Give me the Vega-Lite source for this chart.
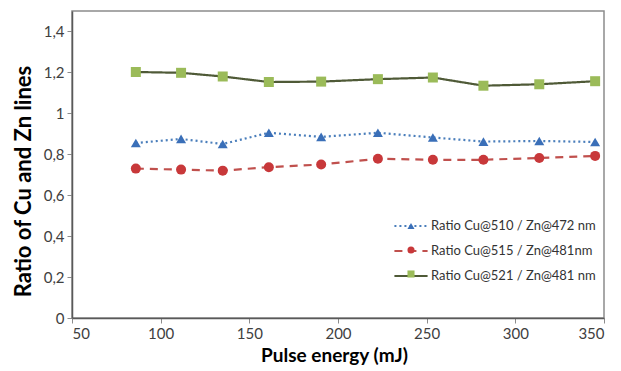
{
  "$schema": "https://vega.github.io/schema/vega-lite/v6.json",
  "width": 532,
  "height": 307,
  "autosize": "none",
  "padding": {"left": 72, "top": 11, "right": 17, "bottom": 53},
  "background": "white",
  "config": {
    "view": {"stroke": "#8c8c8c", "strokeWidth": 1.5},
    "font": "Lato"
  },
  "data": {
    "values": [
      {"series": "Ratio Cu@510 / Zn@472 nm", "energy": 86, "ratio": 0.855},
      {"series": "Ratio Cu@510 / Zn@472 nm", "energy": 111.5, "ratio": 0.875},
      {"series": "Ratio Cu@510 / Zn@472 nm", "energy": 135, "ratio": 0.85},
      {"series": "Ratio Cu@510 / Zn@472 nm", "energy": 161, "ratio": 0.905},
      {"series": "Ratio Cu@510 / Zn@472 nm", "energy": 190.5, "ratio": 0.885},
      {"series": "Ratio Cu@510 / Zn@472 nm", "energy": 222.5, "ratio": 0.905},
      {"series": "Ratio Cu@510 / Zn@472 nm", "energy": 253.5, "ratio": 0.882},
      {"series": "Ratio Cu@510 / Zn@472 nm", "energy": 282, "ratio": 0.862},
      {"series": "Ratio Cu@510 / Zn@472 nm", "energy": 313.5, "ratio": 0.865},
      {"series": "Ratio Cu@510 / Zn@472 nm", "energy": 345, "ratio": 0.86},
      {"series": "Ratio Cu@515 / Zn@481nm", "energy": 86, "ratio": 0.73},
      {"series": "Ratio Cu@515 / Zn@481nm", "energy": 111.5, "ratio": 0.725},
      {"series": "Ratio Cu@515 / Zn@481nm", "energy": 135, "ratio": 0.72},
      {"series": "Ratio Cu@515 / Zn@481nm", "energy": 161, "ratio": 0.737},
      {"series": "Ratio Cu@515 / Zn@481nm", "energy": 190.5, "ratio": 0.75},
      {"series": "Ratio Cu@515 / Zn@481nm", "energy": 222.5, "ratio": 0.778},
      {"series": "Ratio Cu@515 / Zn@481nm", "energy": 253.5, "ratio": 0.773},
      {"series": "Ratio Cu@515 / Zn@481nm", "energy": 282, "ratio": 0.773},
      {"series": "Ratio Cu@515 / Zn@481nm", "energy": 313.5, "ratio": 0.782},
      {"series": "Ratio Cu@515 / Zn@481nm", "energy": 345, "ratio": 0.792},
      {"series": "Ratio Cu@521 / Zn@481 nm", "energy": 86, "ratio": 1.202},
      {"series": "Ratio Cu@521 / Zn@481 nm", "energy": 111.5, "ratio": 1.198},
      {"series": "Ratio Cu@521 / Zn@481 nm", "energy": 135, "ratio": 1.18},
      {"series": "Ratio Cu@521 / Zn@481 nm", "energy": 161, "ratio": 1.153},
      {"series": "Ratio Cu@521 / Zn@481 nm", "energy": 190.5, "ratio": 1.155},
      {"series": "Ratio Cu@521 / Zn@481 nm", "energy": 222.5, "ratio": 1.167},
      {"series": "Ratio Cu@521 / Zn@481 nm", "energy": 253.5, "ratio": 1.175},
      {"series": "Ratio Cu@521 / Zn@481 nm", "energy": 282, "ratio": 1.135},
      {"series": "Ratio Cu@521 / Zn@481 nm", "energy": 313.5, "ratio": 1.142},
      {"series": "Ratio Cu@521 / Zn@481 nm", "energy": 345, "ratio": 1.157}
    ]
  },
  "encoding": {
    "x": {
      "field": "energy",
      "type": "quantitative",
      "scale": {"domain": [50, 350], "nice": false, "zero": false},
      "axis": {
        "values": [50, 100, 150, 200, 250, 300, 350],
        "title": "Pulse energy (mJ)",
        "grid": false,
        "domainColor": "#595959",
        "domainWidth": 1.5,
        "tickColor": "#8c8c8c",
        "tickSize": 5,
        "labelFontSize": 15,
        "labelColor": "#404040",
        "labelPadding": 3,
        "titleFontSize": 19,
        "titleFontWeight": "bold",
        "titleColor": "#000000",
        "titlePadding": 5,
        "titleX": 262
      }
    },
    "y": {
      "field": "ratio",
      "type": "quantitative",
      "scale": {"domain": [0, 1.5], "nice": false},
      "axis": {
        "values": [0, 0.2, 0.4, 0.6, 0.8, 1, 1.2, 1.4],
        "labelExpr": "datum.value == 0 ? '0' : datum.value == 1 ? '1' : replace(format(datum.value, '.1f'), '.', ',')",
        "title": "Ratio of Cu and Zn lines",
        "grid": false,
        "domainColor": "#595959",
        "domainWidth": 1.5,
        "tickColor": "#8c8c8c",
        "tickSize": 5,
        "labelFontSize": 15,
        "labelColor": "#404040",
        "labelPadding": 3,
        "titleFontSize": 22,
        "titleFontWeight": "bold",
        "titleColor": "#000000",
        "titlePadding": 8,
        "titleY": 170
      }
    }
  },
  "layer": [
    {
      "mark": {"type": "line", "strokeWidth": 2.2},
      "encoding": {
        "color": {
          "field": "series",
          "type": "nominal",
          "scale": {
            "domain": ["Ratio Cu@510 / Zn@472 nm", "Ratio Cu@515 / Zn@481nm", "Ratio Cu@521 / Zn@481 nm"],
            "range": ["#4a7ebb", "#c0504d", "#4f5a37"]
          },
          "legend": {
            "orient": "none", "legendX": 321, "legendY": 197, "title": null,
            "symbolType": "stroke", "symbolSize": 1100, "symbolStrokeWidth": 2,
            "labelFontSize": 13, "labelColor": "#333333", "labelLimit": 300,
            "rowPadding": -8, "labelOffset": 2
          }
        },
        "strokeDash": {
          "field": "series",
          "type": "nominal",
          "scale": {
            "domain": ["Ratio Cu@510 / Zn@472 nm", "Ratio Cu@515 / Zn@481nm", "Ratio Cu@521 / Zn@481 nm"],
            "range": [[2, 3], [8, 6], [1, 0]]
          },
          "legend": {
            "orient": "none", "legendX": 321, "legendY": 197, "title": null,
            "symbolType": "stroke", "symbolSize": 1100, "symbolStrokeWidth": 2,
            "labelFontSize": 13, "labelColor": "#333333", "labelLimit": 300,
            "rowPadding": -8, "labelOffset": 2
          }
        }
      }
    },
    {
      "mark": {"type": "point", "filled": true, "size": 100, "opacity": 1},
      "encoding": {
        "color": {
          "field": "series",
          "type": "nominal",
          "scale": {
            "domain": ["Ratio Cu@510 / Zn@472 nm", "Ratio Cu@515 / Zn@481nm", "Ratio Cu@521 / Zn@481 nm"],
            "range": ["#3a6fb8", "#c8383a", "#9bbb59"]
          },
          "legend": {
            "orient": "none", "legendX": 333, "legendY": 209, "title": null,
            "symbolSize": 50, "symbolOpacity": 1,
            "labelFontSize": 12, "labelExpr": "''", "labelLimit": 300,
            "rowPadding": 10
          }
        },
        "shape": {
          "field": "series",
          "type": "nominal",
          "scale": {
            "domain": ["Ratio Cu@510 / Zn@472 nm", "Ratio Cu@515 / Zn@481nm", "Ratio Cu@521 / Zn@481 nm"],
            "range": ["triangle-up", "circle", "square"]
          },
          "legend": {
            "orient": "none", "legendX": 333, "legendY": 209, "title": null,
            "symbolSize": 50, "symbolOpacity": 1,
            "labelFontSize": 12, "labelExpr": "''", "labelLimit": 300,
            "rowPadding": 10
          }
        }
      }
    }
  ],
  "resolve": {
    "scale": {"color": "independent"},
    "legend": {"color": "independent", "shape": "independent", "strokeDash": "independent"}
  }
}
